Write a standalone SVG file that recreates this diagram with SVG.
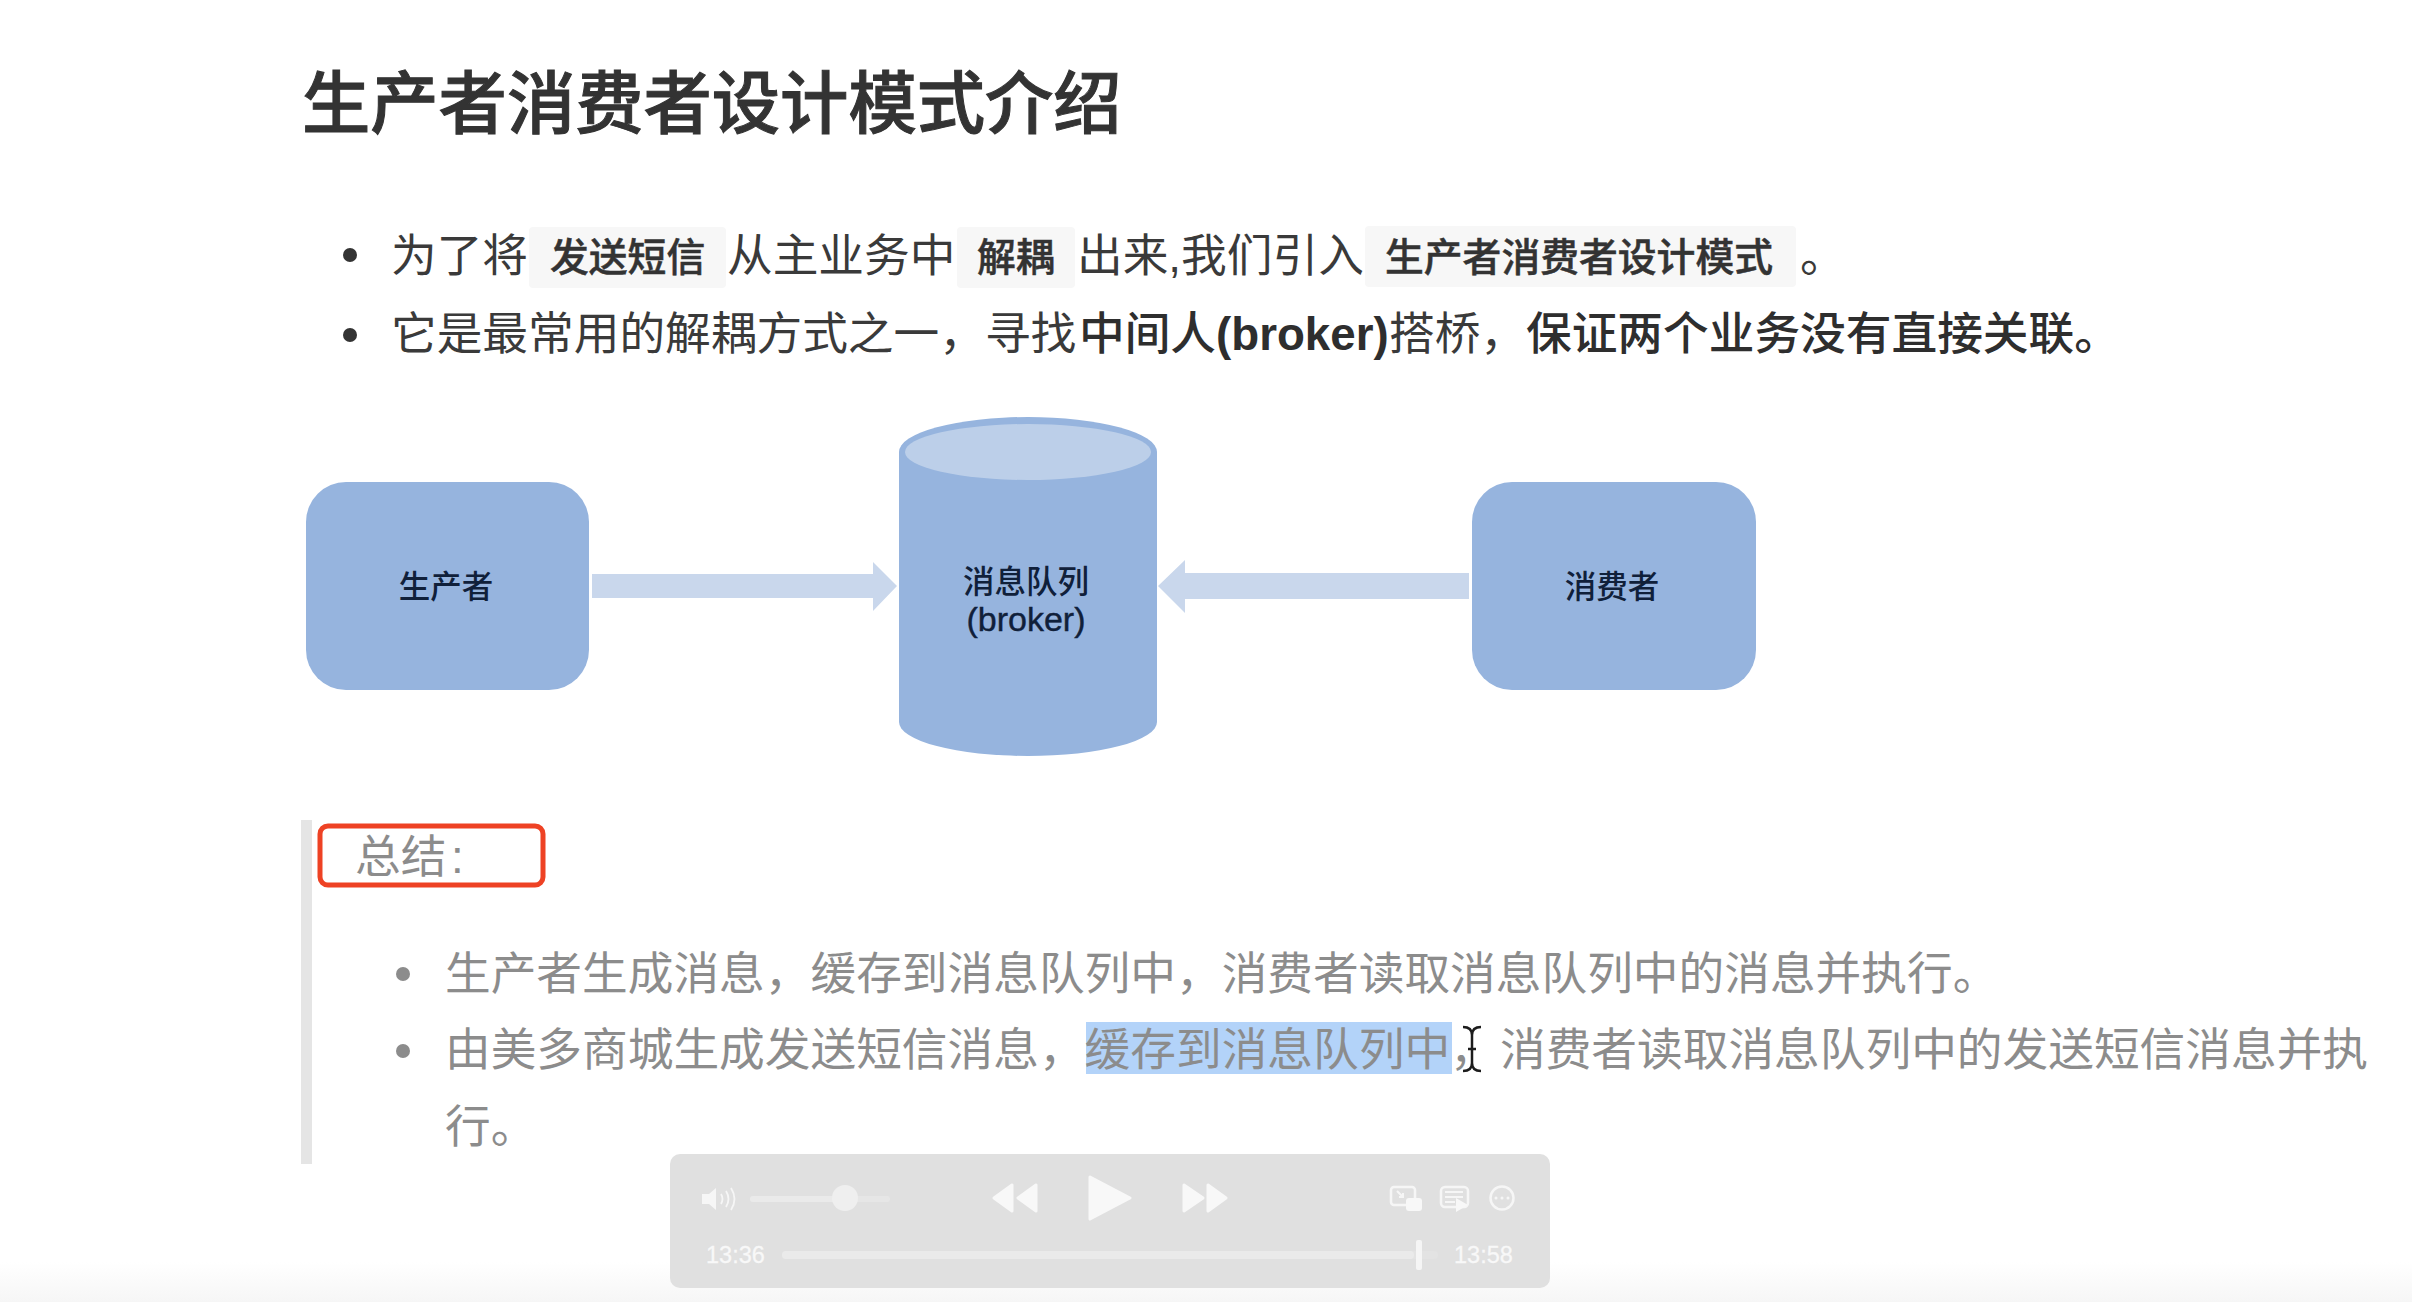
<svg xmlns="http://www.w3.org/2000/svg" width="2412" height="1302" viewBox="0 0 2412 1302">
<style>
text{font-family:"Liberation Sans","Noto Sans CJK SC",sans-serif}
.t{font-size:45.7px;fill:#3a3a3a}
.b{font-size:45.7px;fill:#2e2e2e;font-weight:500}
.l{font-weight:700}
.c{font-size:38.8px;fill:#333;font-weight:500;stroke:#333;stroke-width:.5px}
.q{font-size:45.7px;fill:#8c8c8c}
.n{font-size:31.5px;fill:#10203a;font-weight:500;text-anchor:middle}
.chip{fill:#f7f7f7}
.shape{fill:#96b4de}
.arrow{fill:#c9d7ec}
.time{font-size:23.5px;fill:#f8f8f8;stroke:#f8f8f8;stroke-width:.3px}
.ic{fill:#f6f6f6}
.il{fill:none;stroke:#f6f6f6;stroke-width:2.5}
</style>
<defs>
<linearGradient id="fade" x1="0" y1="0" x2="0" y2="1"><stop offset="0" stop-color="#fff"/><stop offset="1" stop-color="#f6f6f6"/></linearGradient>
</defs>
<rect width="2412" height="1302" fill="#fff"/>
<rect x="0" y="1262" width="2412" height="40" fill="url(#fade)"/>

<g id="heading"><text x="302" y="128" font-size="68.3" font-weight="500" fill="#333" stroke="#333" stroke-width="1">生产者消费者设计模式介绍</text></g>

<g id="intro">
<circle cx="350" cy="255" r="7" fill="#333"/>
<text class="t" x="391" y="272">为了将</text>
<rect class="chip" x="529" y="227" width="197" height="61" rx="4"/>
<text class="c" x="550" y="271">发送短信</text>
<text class="t" x="727" y="272">从主业务中</text>
<rect class="chip" x="957" y="227" width="118" height="61" rx="4"/>
<text class="c" x="977" y="271">解耦</text>
<text class="t" x="1077" y="272">出来,我们引入</text>
<rect class="chip" x="1365" y="226" width="431" height="61" rx="4"/>
<text class="c" x="1385" y="271">生产者消费者设计模式</text>
<text class="t" x="1800" y="272">。</text>
<circle cx="350" cy="335" r="7" fill="#333"/>
<text class="t" x="391" y="350">它是最常用的解耦方式之一，寻找</text>
<text class="b" x="1079" y="350">中间人<tspan class="l">(broker)</tspan></text>
<text class="t" x="1389" y="350">搭桥，</text>
<text class="b" x="1526" y="350">保证两个业务没有直接关联。</text>
</g>

<g id="connectors">
<polygon class="arrow" points="592,574 873,574 873,562 897,586 873,611 873,598 592,598"/>
<polygon class="arrow" points="1469,573 1185,573 1185,560 1158,586 1185,613 1185,599 1469,599"/>
</g>

<g id="producer">
<rect class="shape" x="306" y="482" width="283" height="208" rx="40"/>
<text class="n" x="446" y="598">生产者</text>
</g>
<g id="broker">
<path class="shape" d="M899 452A129 35 0 0 1 1157 452V722A129 34 0 0 1 899 722Z"/>
<ellipse cx="1028" cy="452" rx="123" ry="28" fill="#bccfe9"/>
<text class="n" x="1026" y="593">消息队列</text>
<text class="n" x="1026" y="631" style="font-size:34px;stroke:#10203a;stroke-width:.4px">(broker)</text>
</g>
<g id="consumer">
<rect class="shape" x="1472" y="482" width="284" height="208" rx="40"/>
<text class="n" x="1612" y="598">消费者</text>
</g>

<g id="summary">
<rect x="301" y="820" width="11" height="344" fill="#e5e5e5"/>
<rect x="320" y="826" width="223" height="59" rx="8" fill="none" stroke="#ee4224" stroke-width="5"/>
<text class="q" x="355" y="873">总结</text>
<text class="q" x="451" y="873">:</text>
<circle cx="403" cy="974" r="7" fill="#8c8c8c"/>
<text class="q" x="445" y="990">生产者生成消息，缓存到消息队列中，消费者读取消息队列中的消息并执行。</text>
<circle cx="403" cy="1051" r="7" fill="#8c8c8c"/>
<rect x="1086" y="1022" width="366" height="52" fill="#b3d3f9"/>
<text class="q" x="445" y="1066">由美多商城生成发送短信消息，缓存到消息队列中，</text>
<text class="q" x="1500" y="1066">消费者读取消息队列中的发送短信消息并执</text>
<text class="q" x="445" y="1143">行。</text>
<path id="cursor" d="M1463 1027Q1472 1027 1472 1035V1063Q1472 1071 1463 1071M1481 1027Q1472 1027 1472 1035V1063Q1472 1071 1481 1071M1468 1049H1476" fill="none" stroke="#1c1c1c" stroke-width="2.5"/>
</g>

<g id="player">
<rect x="670" y="1154" width="880" height="134" rx="10" fill="#e0e0e0"/>
<path class="ic" d="M702 1194H709L716 1188V1210L709 1204H702Z"/>
<path class="il" style="stroke-width:1.8" d="M721 1194Q724 1199 721 1204M726 1191Q731 1199 726 1207M731 1188Q738 1199 731 1210"/>
<rect x="750" y="1196" width="140" height="6" rx="3" fill="#e6e6e6"/>
<rect x="750" y="1196" width="95" height="6" rx="3" fill="#eaeaea"/>
<circle cx="845" cy="1198" r="13" fill="#efefef"/>
<g stroke="#f8f8f8" stroke-width="3" stroke-linejoin="round" fill="#f8f8f8">
<polygon points="994,1198 1012,1185 1012,1211"/>
<polygon points="1018,1198 1036,1185 1036,1211"/>
<polygon points="1090,1177 1130,1198 1090,1219"/>
<polygon points="1184,1185 1203,1198 1184,1211"/>
<polygon points="1208,1185 1226,1198 1208,1211"/>
</g>
<rect class="il" x="1391" y="1187" width="24" height="18" rx="3"/>
<path class="il" style="stroke-width:2" d="M1397 1191L1403 1197M1403 1193V1197H1399"/>
<rect x="1406" y="1198" width="16" height="13" rx="3" fill="#f8f8f8"/>
<rect class="il" x="1441" y="1187" width="27" height="20" rx="4"/>
<path class="il" style="stroke-width:2" d="M1445 1192H1463M1445 1197H1463M1445 1202H1455"/>
<polygon points="1456,1198 1468,1205 1456,1212" fill="#f8f8f8"/>
<circle class="il" cx="1502" cy="1198" r="11.5"/>
<circle class="ic" cx="1496" cy="1198" r="1.5"/><circle class="ic" cx="1502" cy="1198" r="1.5"/><circle class="ic" cx="1508" cy="1198" r="1.5"/>
<text class="time" x="706" y="1263">13:36</text>
<rect x="782" y="1251" width="656" height="8" rx="4" fill="#e3e3e3"/>
<rect x="782" y="1251" width="632" height="8" rx="4" fill="#eaeaea"/>
<rect x="1416" y="1240" width="6" height="30" rx="2" fill="#f5f5f5"/>
<text class="time" x="1454" y="1263">13:58</text>
</g>
</svg>
